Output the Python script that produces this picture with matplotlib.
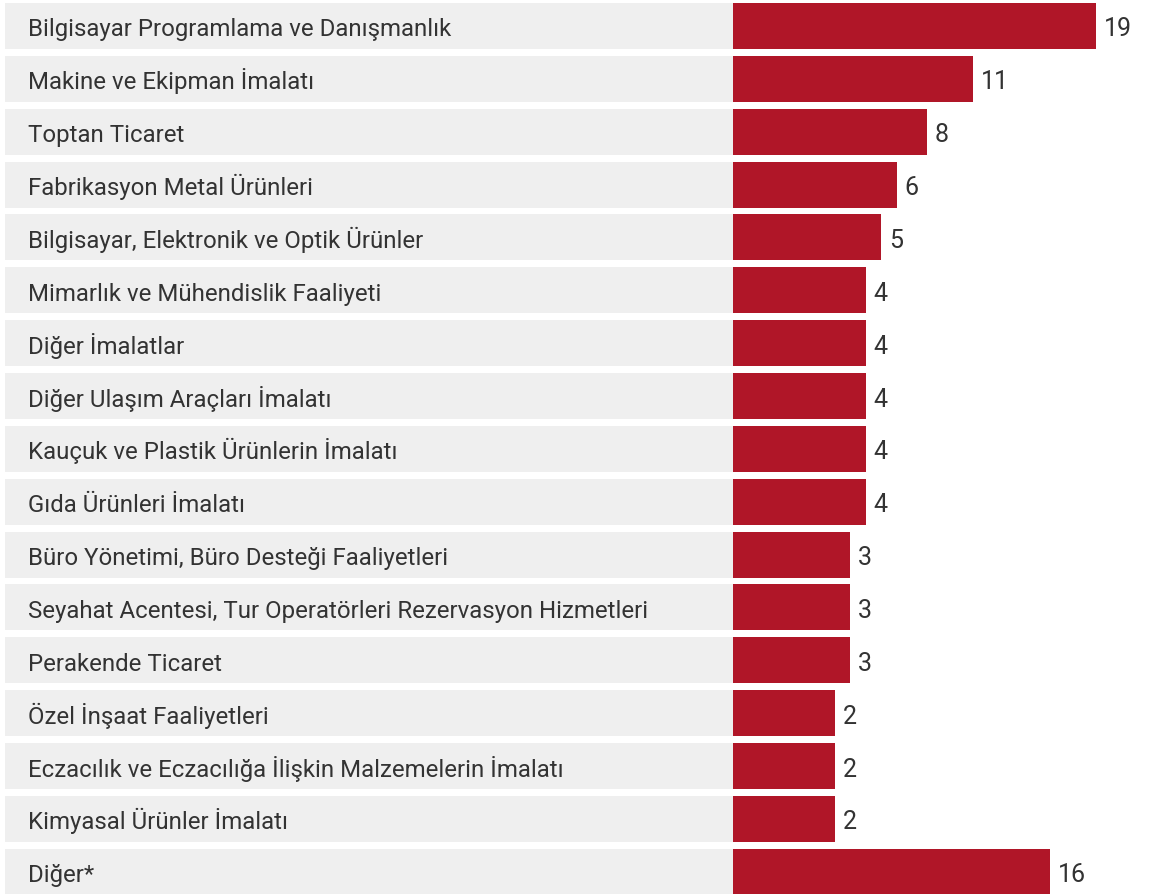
import matplotlib.pyplot as plt

categories = [
    'Bilgisayar Programlama ve Danışmanlık',
    'Makine ve Ekipman İmalatı',
    'Toptan Ticaret',
    'Fabrikasyon Metal Ürünleri',
    'Bilgisayar, Elektronik ve Optik Ürünler',
    'Mimarlık ve Mühendislik Faaliyeti',
    'Diğer İmalatlar',
    'Diğer Ulaşım Araçları İmalatı',
    'Kauçuk ve Plastik Ürünlerin İmalatı',
    'Gıda Ürünleri İmalatı',
    'Büro Yönetimi, Büro Desteği Faaliyetleri',
    'Seyahat Acentesi, Tur Operatörleri Rezervasyon Hizmetleri',
    'Perakende Ticaret',
    'Özel İnşaat Faaliyetleri',
    'Eczacılık ve Eczacılığa İlişkin Malzemelerin İmalatı',
    'Kimyasal Ürünler İmalatı',
    'Diğer*',
]
values = [19, 11, 8, 6, 5, 4, 4, 4, 4, 4, 3, 3, 3, 2, 2, 2, 16]

RED = '#b01628'
GRAY = '#efefef'
TXT = '#333333'

plt.rcParams['font.family'] = ['Roboto', 'DejaVu Sans']

fig = plt.figure(figsize=(11.51, 8.95), dpi=100)
ax = fig.add_axes([0, 0, 1, 1])

# red bars start a bit left of zero (hidden base)
base = -4.65
left_lim = -52.44
right_lim = 22.59

y = list(range(len(categories)))
h = 0.87
dy = 0.18  # baseline shift below bar centre

ax.barh(y, [base - (left_lim + 0.33)] * len(y), left=left_lim + 0.33, height=h, color=GRAY)
ax.barh(y, [v - base for v in values], left=base, height=h, color=RED)

for i, (cat, v) in enumerate(zip(categories, values)):
    ax.text(left_lim + 1.83, i + dy, cat, va='baseline', ha='left', fontsize=17.3, color=TXT)
    ax.text(v + 0.5, i + dy, str(v), va='baseline', ha='left', fontsize=18, color=TXT)

ax.set_xlim(left_lim, right_lim)
ax.set_ylim(16.42, -0.51)
ax.axis('off')

fig.savefig('out.png', dpi=100)
